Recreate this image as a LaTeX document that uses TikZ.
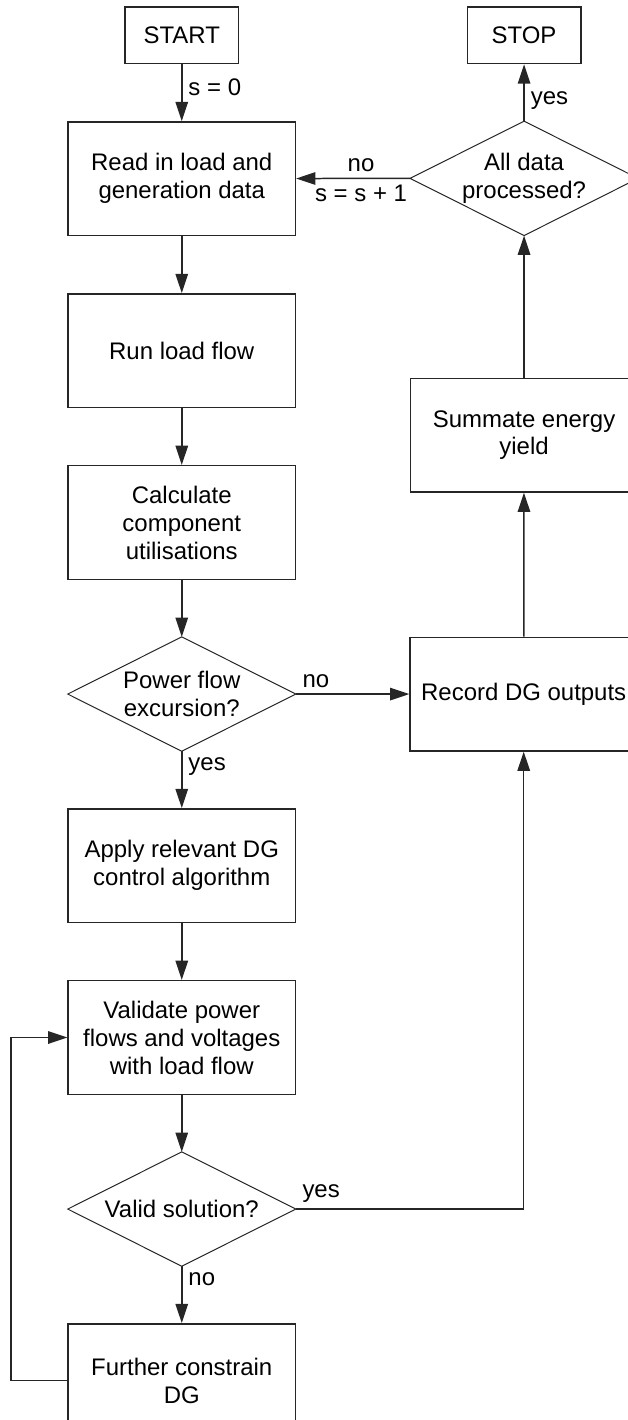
\documentclass[tikz,border=0pt]{standalone}
\usepackage{fontspec}
\setmainfont{Liberation Sans}
\usepackage{tikz}
\usetikzlibrary{arrows.meta, positioning}

\begin{document}
\begin{tikzpicture}[
    node distance=1cm and 1cm,
    every node/.style={font=\fontsize{12pt}{14pt}\selectfont},
    box/.style={draw=black!85, line width=0.75pt, minimum width=4cm, minimum height=2cm,
                align=center, inner sep=2pt},
    term/.style={box, minimum width=2cm, minimum height=1cm},
    decision/.style={minimum width=4cm, minimum height=2cm, align=center, inner sep=0pt},
    arrow/.style={-{Triangle[length=0.34cm, width=0.22cm]}, line width=0.75pt, draw=black!85},
    note/.style={inner sep=3pt}
]
\useasboundingbox (0,0) rectangle (11.04,-25.0);

% left column
\node[term] (start) at (3.2,-0.62) {START};
\node[box, below=of start] (read) {Read in load and\\generation data};
\node[box, below=of read] (runlf) {Run load flow};
\node[box, below=of runlf] (calc) {Calculate\\component\\utilisations};
\node[decision, below=of calc] (pflow) {Power flow\\excursion?};
\node[box, below=of pflow] (apply) {Apply relevant DG\\control algorithm};
\node[box, below=of apply] (validate) {Validate power\\flows and voltages\\with load flow};
\node[decision, below=of validate] (valid) {Valid solution?};
\node[box, below=of valid] (further) {Further constrain\\DG};

% right column
\node[term, right=4cm of start] (stop) {STOP};
\node[decision, below=of stop] (alldata) {All data\\processed?};
\node[box, below=2.5cm of alldata] (summate) {Summate energy\\yield};
\node[box, right=2cm of pflow] (record) {Record DG outputs};

% diamond outlines
\foreach \n in {pflow, valid, alldata}
    \draw[line width=0.5pt, black!85] (\n.north) -- (\n.east) -- (\n.south) -- (\n.west) -- cycle;

\draw[arrow] (start) -- node[note, right, pos=0.4]{s = 0} (read);
\draw[arrow] (read) -- (runlf);
\draw[arrow] (runlf) -- (calc);
\draw[arrow] (calc) -- (pflow.north);
\draw[arrow] (pflow.south) -- node[note, below right, pos=0]{yes} (apply);
\draw[arrow] (pflow.east) -- node[note, above right, pos=0]{no} (record);
\draw[arrow] (apply) -- (validate);
\draw[arrow] (validate) -- (valid.north);
\draw[arrow] (valid.south) -- node[note, below right, pos=0]{no} (further);
\draw[arrow] (valid.east) -| node[note, above right, pos=0]{yes} (record.south);
\draw[arrow] (further.west) -- ++(-0.99,0) |- (validate.west);
\draw[arrow] (record) -- (summate);
\draw[arrow] (summate) -- (alldata.south);
\draw[arrow] (alldata.north) -- node[note, right, pos=0.36]{yes} (stop);
\draw[arrow] (alldata.west) -- node[note, above, pos=0.43]{no}
    node[note, below, pos=0.43]{s = s + 1} (read);
\end{tikzpicture}
\end{document}
